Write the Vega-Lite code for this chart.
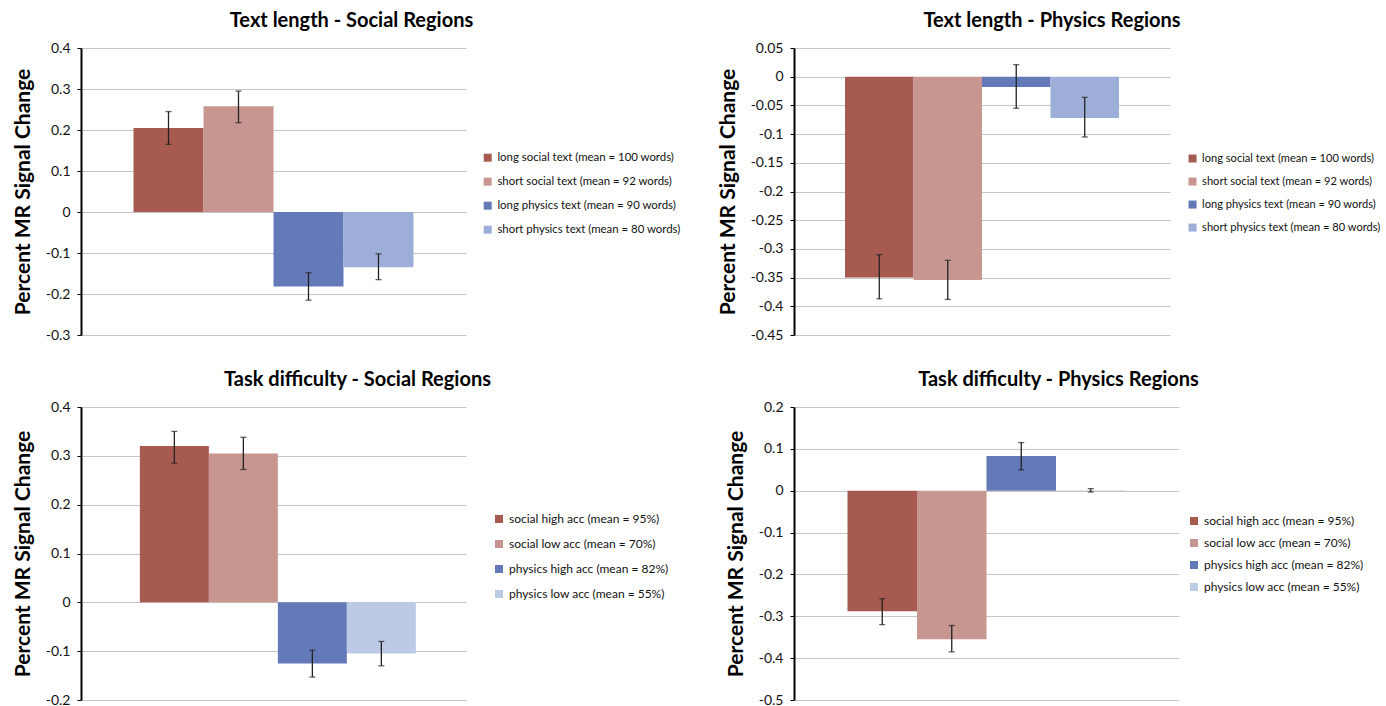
{
  "$schema": "https://vega.github.io/schema/vega-lite/v6.json",
  "padding": {"left": 12, "top": 11, "right": 0, "bottom": 0},
  "background": "white",
  "config": {
    "view": {"stroke": null},
    "font": "Lato",
    "title": {"font": "Lato", "fontSize": 20, "fontWeight": "bold", "color": "#000", "anchor": "middle", "offset": 10},
    "axisY": {
      "grid": true, "gridColor": "#c6c6c6", "gridWidth": 1,
      "domainColor": "#000", "domainWidth": 2,
      "tickColor": "#000", "tickSize": 4, "tickWidth": 1, "tickCount": 20,
      "labelFont": "Lato", "labelFontSize": 14, "labelColor": "#111", "labelPadding": 7, "labelOverlap": false,
      "titleFont": "Lato", "titleFontSize": 21, "titleFontWeight": "bold", "titleColor": "#000", "titlePadding": 12,
      "labelExpr": "'' + datum.value"
    },
    "legend": {
      "orient": "none", "title": null, "symbolType": "square", "symbolSize": 64,
      "symbolStrokeWidth": 0, "labelFont": "Lato", "labelFontSize": 11.4, "labelColor": "#111",
      "labelOffset": 4, "rowPadding": 12, "labelLimit": 400
    }
  },
  "datasets": {
    "bars": [
      {"panel": "p1", "label": "long social text (mean = 100 words)", "value": 0.205, "lo": 0.165, "hi": 0.245},
      {"panel": "p1", "label": "short social text (mean = 92 words)", "value": 0.258, "lo": 0.218, "hi": 0.295},
      {"panel": "p1", "label": "long physics text (mean = 90 words)", "value": -0.182, "lo": -0.215, "hi": -0.148},
      {"panel": "p1", "label": "short physics text (mean = 80 words)", "value": -0.135, "lo": -0.165, "hi": -0.102},
      {"panel": "p2", "label": "long social text (mean = 100 words)", "value": -0.35, "lo": -0.387, "hi": -0.31},
      {"panel": "p2", "label": "short social text (mean = 92 words)", "value": -0.354, "lo": -0.388, "hi": -0.32},
      {"panel": "p2", "label": "long physics text (mean = 90 words)", "value": -0.018, "lo": -0.055, "hi": 0.021},
      {"panel": "p2", "label": "short physics text (mean = 80 words)", "value": -0.072, "lo": -0.105, "hi": -0.036},
      {"panel": "p3", "label": "social high acc (mean = 95%)", "value": 0.32, "lo": 0.285, "hi": 0.35},
      {"panel": "p3", "label": "social low acc (mean = 70%)", "value": 0.305, "lo": 0.272, "hi": 0.338},
      {"panel": "p3", "label": "physics high acc (mean = 82%)", "value": -0.125, "lo": -0.153, "hi": -0.098},
      {"panel": "p3", "label": "physics low acc (mean = 55%)", "value": -0.105, "lo": -0.13, "hi": -0.08},
      {"panel": "p4", "label": "social high acc (mean = 95%)", "value": -0.288, "lo": -0.32, "hi": -0.258},
      {"panel": "p4", "label": "social low acc (mean =  70%)", "value": -0.355, "lo": -0.385, "hi": -0.322},
      {"panel": "p4", "label": "physics high acc (mean = 82%)", "value": 0.083, "lo": 0.05, "hi": 0.115},
      {"panel": "p4", "label": "physics low acc (mean = 55%)", "value": 0.001, "lo": -0.003, "hi": 0.005}
    ]
  },
  "columns": 2,
  "spacing": {"row": 72, "column": 328},
  "bounds": "flush",
  "resolve": {"scale": {"color": "independent", "y": "independent", "x": "independent"}, "legend": {"color": "independent"}, "axis": {"y": "independent"}},
  "concat": [
    {
      "width": 385, "height": 287,
      "title": {"text": "Text length - Social Regions", "dx": 78},
      "data": {"name": "bars"},
      "transform": [{"filter": "datum.panel == 'p1'"}],
      "encoding": {"x": {"field": "label", "type": "nominal", "sort": null, "scale": {"paddingInner": 0, "paddingOuter": 0.75}, "axis": null}},
      "layer": [
        {"mark": {"type": "bar"},
         "encoding": {
           "y": {"field": "value", "type": "quantitative", "scale": {"domain": [-0.3, 0.4], "nice": false},
                 "axis": {"title": "Percent MR Signal Change", "values": [-0.3, -0.2, -0.1, 0, 0.1, 0.2, 0.3, 0.4]}},
           "color": {"field": "label", "type": "nominal",
             "scale": {"domain": ["long social text (mean = 100 words)", "short social text (mean = 92 words)", "long physics text (mean = 90 words)", "short physics text (mean = 80 words)"],
                       "range": ["#a65a50", "#c79690", "#6479b8", "#9daed8"]},
             "legend": {"legendX": 401, "legendY": 104, "rowPadding": 11}}
         }},
        {"mark": {"type": "rule", "color": "#222", "strokeWidth": 1.3},
         "encoding": {"y": {"field": "lo", "type": "quantitative"}, "y2": {"field": "hi"}}},
        {"mark": {"type": "tick", "color": "#222", "size": 6, "thickness": 1.3},
         "encoding": {"y": {"field": "lo", "type": "quantitative"}}},
        {"mark": {"type": "tick", "color": "#222", "size": 6, "thickness": 1.3},
         "encoding": {"y": {"field": "hi", "type": "quantitative"}}}
      ]
    },
    {
      "width": 376, "height": 287,
      "title": {"text": "Text length - Physics Regions", "dx": 70},
      "data": {"name": "bars"},
      "transform": [{"filter": "datum.panel == 'p2'"}],
      "encoding": {"x": {"field": "label", "type": "nominal", "sort": null, "scale": {"paddingInner": 0, "paddingOuter": 0.745}, "axis": null}},
      "layer": [
        {"mark": {"type": "bar"},
         "encoding": {
           "y": {"field": "value", "type": "quantitative", "scale": {"domain": [-0.45, 0.05], "nice": false},
                 "axis": {"title": "Percent MR Signal Change", "values": [-0.45, -0.4, -0.35, -0.3, -0.25, -0.2, -0.15, -0.1, -0.05, 0, 0.05]}},
           "color": {"field": "label", "type": "nominal",
             "scale": {"domain": ["long social text (mean = 100 words)", "short social text (mean = 92 words)", "long physics text (mean = 90 words)", "short physics text (mean = 80 words)"],
                       "range": ["#a65a50", "#c79690", "#6479b8", "#9daed8"]},
             "legend": {"legendX": 393, "legendY": 105, "rowPadding": 11, "labelFontSize": 11.1}}
         }},
        {"mark": {"type": "rule", "color": "#222", "strokeWidth": 1.3},
         "encoding": {"y": {"field": "lo", "type": "quantitative"}, "y2": {"field": "hi"}}},
        {"mark": {"type": "tick", "color": "#222", "size": 6, "thickness": 1.3},
         "encoding": {"y": {"field": "lo", "type": "quantitative"}}},
        {"mark": {"type": "tick", "color": "#222", "size": 6, "thickness": 1.3},
         "encoding": {"y": {"field": "hi", "type": "quantitative"}}}
      ]
    },
    {
      "width": 385, "height": 293,
      "title": {"text": "Task difficulty - Social Regions", "dx": 84},
      "data": {"name": "bars"},
      "transform": [{"filter": "datum.panel == 'p3'"}],
      "encoding": {"x": {"field": "label", "type": "nominal", "sort": null, "scale": {"paddingInner": 0, "paddingOuter": 0.79, "align": 0.54}, "axis": null}},
      "layer": [
        {"mark": {"type": "bar"},
         "encoding": {
           "y": {"field": "value", "type": "quantitative", "scale": {"domain": [-0.2, 0.4], "nice": false},
                 "axis": {"title": "Percent MR Signal Change", "values": [-0.2, -0.1, 0, 0.1, 0.2, 0.3, 0.4]}},
           "color": {"field": "label", "type": "nominal",
             "scale": {"domain": ["social high acc (mean = 95%)", "social low acc (mean = 70%)", "physics high acc (mean = 82%)", "physics low acc (mean = 55%)"],
                       "range": ["#a65a50", "#c79690", "#6479b8", "#bdcae5"]},
             "legend": {"legendX": 412, "legendY": 106, "rowPadding": 13, "labelFontSize": 12}}
         }},
        {"mark": {"type": "rule", "color": "#222", "strokeWidth": 1.3},
         "encoding": {"y": {"field": "lo", "type": "quantitative"}, "y2": {"field": "hi"}}},
        {"mark": {"type": "tick", "color": "#222", "size": 6, "thickness": 1.3},
         "encoding": {"y": {"field": "lo", "type": "quantitative"}}},
        {"mark": {"type": "tick", "color": "#222", "size": 6, "thickness": 1.3},
         "encoding": {"y": {"field": "hi", "type": "quantitative"}}}
      ]
    },
    {
      "width": 385, "height": 293,
      "title": {"text": "Task difficulty - Physics Regions", "dx": 72},
      "data": {"name": "bars"},
      "transform": [{"filter": "datum.panel == 'p4'"}],
      "encoding": {"x": {"field": "label", "type": "nominal", "sort": null, "scale": {"paddingInner": 0, "paddingOuter": 0.77}, "axis": null}},
      "layer": [
        {"mark": {"type": "bar"},
         "encoding": {
           "y": {"field": "value", "type": "quantitative", "scale": {"domain": [-0.5, 0.2], "nice": false},
                 "axis": {"title": "Percent MR Signal Change", "values": [-0.5, -0.4, -0.3, -0.2, -0.1, 0, 0.1, 0.2]}},
           "color": {"field": "label", "type": "nominal",
             "scale": {"domain": ["social high acc (mean = 95%)", "social low acc (mean =  70%)", "physics high acc (mean = 82%)", "physics low acc (mean = 55%)"],
                       "range": ["#a65a50", "#c79690", "#6479b8", "#bdcae5"]},
             "legend": {"legendX": 394, "legendY": 108, "rowPadding": 10, "labelFontSize": 12}}
         }},
        {"mark": {"type": "rule", "color": "#8a8a8a", "strokeWidth": 2},
         "encoding": {"y": {"datum": 0}}},
        {"mark": {"type": "rule", "color": "#222", "strokeWidth": 1.3},
         "encoding": {"y": {"field": "lo", "type": "quantitative"}, "y2": {"field": "hi"}}},
        {"mark": {"type": "tick", "color": "#222", "size": 6, "thickness": 1.3},
         "encoding": {"y": {"field": "lo", "type": "quantitative"}}},
        {"mark": {"type": "tick", "color": "#222", "size": 6, "thickness": 1.3},
         "encoding": {"y": {"field": "hi", "type": "quantitative"}}}
      ]
    }
  ]
}
